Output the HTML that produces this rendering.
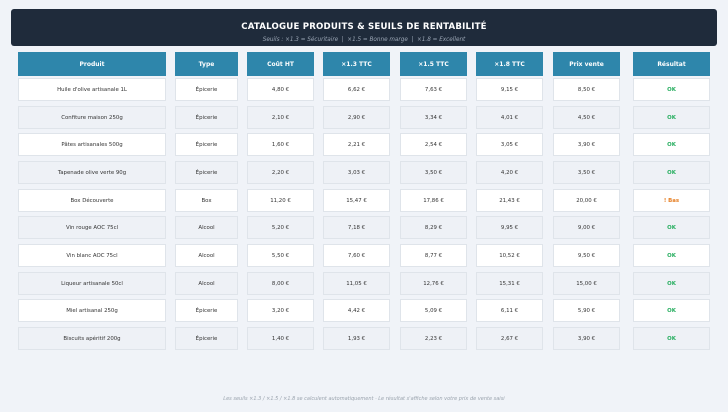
<!DOCTYPE html><html><head><meta charset="utf-8"><style>
body{margin:0;width:728px;height:412px;background:#f0f3f8;font-family:"DejaVu Sans","Liberation Sans",sans-serif;position:relative;overflow:hidden}
.hd{position:absolute;left:11px;top:9px;width:706px;height:37px;background:#1f2b3b;border-radius:3px;text-align:center;color:#fff}
.hd .t{font-size:8.6px;font-weight:bold;margin-top:13px;letter-spacing:.2px}
.hd .s{font-size:5.7px;font-style:italic;color:#9aa5b4;margin-top:5px}
.r{position:absolute;left:0;height:23px}
.c{position:absolute;top:0;height:23px;box-sizing:border-box;font-size:5.4px;color:#333;display:flex;align-items:center;justify-content:center;border:1px solid #dfe4ea}
.h .c{background:#2e86ab;color:#fff;font-weight:bold;border:none;height:24px;font-size:6px}
.w .c{background:#fff}
.g .c{background:#eef1f6}
.ok{color:#27ae60;font-weight:bold}
.bad{color:#e67e22;font-weight:bold}
.a{left:18px;width:148px}.b{left:175px;width:63px}.d{left:247px;width:67px}.e{left:323px;width:67px}.f{left:400px;width:67px}.g1{left:476px;width:67px}.p{left:553px;width:67px}.z{left:633px;width:77px}
.ft{position:absolute;top:396px;left:0;width:728px;text-align:center;font-size:5.0px;font-style:italic;color:#9aa3ad}
</style></head><body>
<div class="hd"><div class="t">CATALOGUE PRODUITS &amp; SEUILS DE RENTABILITÉ</div><div class="s">Seuils : ×1.3 = Sécuritaire &nbsp;|&nbsp; ×1.5 = Bonne marge &nbsp;|&nbsp; ×1.8 = Excellent</div></div>
<div class="r h" style="top:52px"><div class="c a">Produit</div><div class="c b">Type</div><div class="c d">Coût HT</div><div class="c e">×1.3 TTC</div><div class="c f">×1.5 TTC</div><div class="c g1">×1.8 TTC</div><div class="c p">Prix vente</div><div class="c z">Résultat</div></div>
<div class="r w" style="top:78px"><div class="c a">Huile d'olive artisanale 1L</div><div class="c b">Épicerie</div><div class="c d">4,80 €</div><div class="c e">6,62 €</div><div class="c f">7,63 €</div><div class="c g1">9,15 €</div><div class="c p">8,50 €</div><div class="c z ok">OK</div></div>
<div class="r g" style="top:106px"><div class="c a">Confiture maison 250g</div><div class="c b">Épicerie</div><div class="c d">2,10 €</div><div class="c e">2,90 €</div><div class="c f">3,34 €</div><div class="c g1">4,01 €</div><div class="c p">4,50 €</div><div class="c z ok">OK</div></div>
<div class="r w" style="top:133px"><div class="c a">Pâtes artisanales 500g</div><div class="c b">Épicerie</div><div class="c d">1,60 €</div><div class="c e">2,21 €</div><div class="c f">2,54 €</div><div class="c g1">3,05 €</div><div class="c p">3,90 €</div><div class="c z ok">OK</div></div>
<div class="r g" style="top:161px"><div class="c a">Tapenade olive verte 90g</div><div class="c b">Épicerie</div><div class="c d">2,20 €</div><div class="c e">3,03 €</div><div class="c f">3,50 €</div><div class="c g1">4,20 €</div><div class="c p">3,50 €</div><div class="c z ok">OK</div></div>
<div class="r w" style="top:189px"><div class="c a">Box Découverte</div><div class="c b">Box</div><div class="c d">11,20 €</div><div class="c e">15,47 €</div><div class="c f">17,86 €</div><div class="c g1">21,43 €</div><div class="c p">20,00 €</div><div class="c z bad">! Bas</div></div>
<div class="r g" style="top:216px"><div class="c a">Vin rouge AOC 75cl</div><div class="c b">Alcool</div><div class="c d">5,20 €</div><div class="c e">7,18 €</div><div class="c f">8,29 €</div><div class="c g1">9,95 €</div><div class="c p">9,00 €</div><div class="c z ok">OK</div></div>
<div class="r w" style="top:244px"><div class="c a">Vin blanc AOC 75cl</div><div class="c b">Alcool</div><div class="c d">5,50 €</div><div class="c e">7,60 €</div><div class="c f">8,77 €</div><div class="c g1">10,52 €</div><div class="c p">9,50 €</div><div class="c z ok">OK</div></div>
<div class="r g" style="top:272px"><div class="c a">Liqueur artisanale 50cl</div><div class="c b">Alcool</div><div class="c d">8,00 €</div><div class="c e">11,05 €</div><div class="c f">12,76 €</div><div class="c g1">15,31 €</div><div class="c p">15,00 €</div><div class="c z ok">OK</div></div>
<div class="r w" style="top:299px"><div class="c a">Miel artisanal 250g</div><div class="c b">Épicerie</div><div class="c d">3,20 €</div><div class="c e">4,42 €</div><div class="c f">5,09 €</div><div class="c g1">6,11 €</div><div class="c p">5,90 €</div><div class="c z ok">OK</div></div>
<div class="r g" style="top:327px"><div class="c a">Biscuits apéritif 200g</div><div class="c b">Épicerie</div><div class="c d">1,40 €</div><div class="c e">1,93 €</div><div class="c f">2,23 €</div><div class="c g1">2,67 €</div><div class="c p">3,90 €</div><div class="c z ok">OK</div></div>
<div class="ft">Les seuils ×1.3 / ×1.5 / ×1.8 se calculent automatiquement · Le résultat s'affiche selon votre prix de vente saisi</div>
</body></html>
